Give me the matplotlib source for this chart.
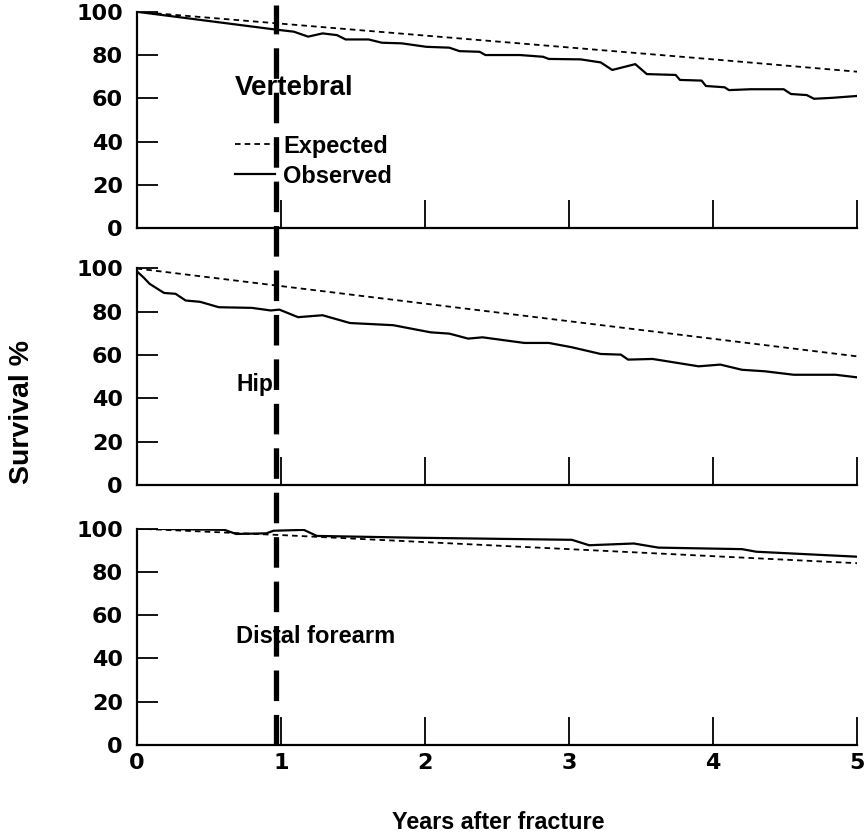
import matplotlib
matplotlib.use("Agg")
import matplotlib.pyplot as plt

plt.rcParams['lines.scale_dashes'] = False

# Données (années après fracture, survie %)
vert_exp_x = [0, 1, 2, 3, 4, 5]
vert_exp_y = [100, 94.5, 89, 83.5, 78, 72.3]
vert_obs_x = [0, 0.96, 1.09, 1.19, 1.29, 1.39, 1.45, 1.61, 1.70, 1.84, 2.01, 2.17, 2.24,
              2.38, 2.42, 2.66, 2.82, 2.86, 3.08, 3.22, 3.30, 3.46, 3.54, 3.74, 3.77,
              3.92, 3.95, 4.08, 4.11, 4.26, 4.49, 4.54, 4.65, 4.70, 4.82, 5.0]
vert_obs_y = [100, 91.8, 90.8, 88.5, 90, 89.2, 87.2, 87.2, 85.7, 85.4, 83.8, 83.4, 81.8,
              81.5, 80, 80, 79.2, 78.2, 78, 76.6, 73.1, 75.8, 71.2, 70.8, 68.5,
              68.2, 65.7, 65.1, 63.8, 64.2, 64.2, 62, 61.5, 59.8, 60.2, 61.1]

hip_exp_x = [0, 5]
hip_exp_y = [100, 59.4]
hip_obs_x = [0, 0.05, 0.09, 0.19, 0.27, 0.34, 0.44, 0.57, 0.80, 0.93, 0.99, 1.12, 1.29,
             1.48, 1.78, 2.04, 2.17, 2.30, 2.40, 2.69, 2.86, 3.02, 3.22, 3.36, 3.41,
             3.58, 3.90, 4.05, 4.20, 4.36, 4.56, 4.85, 5.0]
hip_obs_y = [98.8, 95.7, 92.9, 88.7, 88.3, 85.2, 84.6, 82.1, 81.8, 80.6, 81, 77.5, 78.4,
             74.8, 73.8, 70.5, 69.9, 67.6, 68.2, 65.6, 65.6, 63.6, 60.5, 60.2, 57.9,
             58.2, 54.8, 55.6, 53.2, 52.5, 50.9, 50.9, 49.7]

fore_exp_x = [0, 1, 5]
fore_exp_y = [100, 97, 84]
fore_obs_x = [0, 0.61, 0.69, 0.90, 0.95, 1.16, 1.25, 1.91, 3.02, 3.14, 3.45, 3.62, 4.20,
              4.30, 5.0]
fore_obs_y = [100, 99.4, 97.5, 97.8, 99, 99.4, 96.6, 95.8, 94.8, 92.3, 93.1, 91.2, 90.5,
              89.3, 87]

panneaux = [
    ("Vertebral", vert_exp_x, vert_exp_y, vert_obs_x, vert_obs_y),
    ("Hip", hip_exp_x, hip_exp_y, hip_obs_x, hip_obs_y),
    ("Distal forearm", fore_exp_x, fore_exp_y, fore_obs_x, fore_obs_y),
]
ligne_annee = 0.97

fig = plt.figure(figsize=(8.65, 8.39), dpi=100)
gauche, largeur = 0.158, 0.833
bas = [0.728, 0.422, 0.112]
haut = 0.258

etiq_font = dict(family=['Liberation Sans Narrow', 'Liberation Sans'], weight='bold')
axes = []
for i, (nom, ex, ey, ox, oy) in enumerate(panneaux):
    ax = fig.add_axes([gauche, bas[i], largeur, haut])
    axes.append(ax)
    ax.plot(ex, ey, color='black', lw=1.3, linestyle=(0, (4, 3)), label='Expected')
    ax.plot(ox, oy, color='black', lw=1.6, label='Observed')
    ax.set_xlim(0, 5)
    ax.set_ylim(0, 100)
    ax.set_yticks([0, 20, 40, 60, 80, 100])
    ax.set_xticks([0, 1, 2, 3, 4, 5])
    for s in ['top', 'right']:
        ax.spines[s].set_visible(False)
    for s in ['left', 'bottom']:
        ax.spines[s].set_linewidth(1.6)
    ax.tick_params(axis='y', direction='in', length=15, width=1.3, pad=10,
                   labelsize=16)
    ax.tick_params(axis='x', direction='in', length=20, width=1.3, pad=6,
                   labelsize=16, labelbottom=(i == 2))
    for lab in ax.get_yticklabels() + ax.get_xticklabels():
        lab.set_fontweight('bold')
        lab.set_family('DejaVu Sans')

axes[0].text(0.68, 65, "Vertebral", fontsize=20, va='center', ha='left', **etiq_font)
axes[1].text(0.69, 46.5, "Hip", fontsize=16.5, va='center', ha='left', **etiq_font)
axes[2].text(0.69, 50, "Distal forearm", fontsize=17, va='center', ha='left', **etiq_font)

leg = axes[0].legend(loc='center left', bbox_to_anchor=(0.136, 0.31), frameon=False,
                     handlelength=1.7, handletextpad=0.35, borderpad=0, borderaxespad=0,
                     labelspacing=0.3, prop=dict(family=['Liberation Sans Narrow', 'Liberation Sans'],
                                                 weight='bold', size=17))

# ligne verticale pointillée épaisse à 1 an, sur les trois panneaux
ov = fig.add_axes([gauche, bas[2], largeur, bas[0] + haut - bas[2] + 0.008])
ov.set_xlim(0, 5)
ov.set_ylim(0, 1)
ov.axis('off')
ov.patch.set_alpha(0)
ov.axvline(ligne_annee, color='black', lw=3.8, linestyle=(0, (22, 10)))

fig.text(0.026, 0.509, "Survival %", rotation=90, va='center', ha='center',
         fontsize=20.5, **etiq_font)
fig.text(0.576, 0.02, "Years after fracture", va='center', ha='center',
         fontsize=16.8, weight='bold', family='Liberation Sans')

fig.savefig('out.png', dpi=100)
